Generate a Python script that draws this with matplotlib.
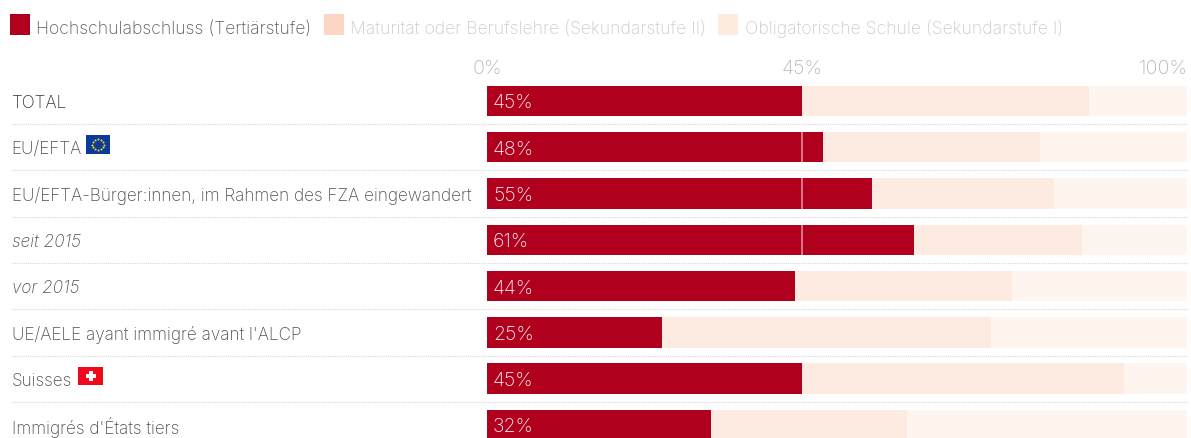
import matplotlib
matplotlib.use("Agg")
import matplotlib.pyplot as plt
from matplotlib.patches import Rectangle
from matplotlib.transforms import blended_transform_factory
import numpy as np

categories = ["TOTAL", "EU/EFTA", "EU/EFTA-Bürger:innen, im Rahmen des FZA eingewandert",
              "seit 2015", "vor 2015", "UE/AELE ayant immigré avant l'ALCP", "Suisses", "Immigrés d'États tiers"]
italic = [False, False, False, True, True, False, False, False]
tertiary = [45, 48, 55, 61, 44, 25, 45, 32]
secondary = [41, 31, 26, 24, 31, 47, 46, 28]
compulsory = [14, 21, 19, 15, 25, 28, 9, 40]
tick_values = [0, 45, 100]
legend_labels = ["Hochschulabschluss (Tertiärstufe)", "Maturität oder Berufslehre (Sekundarstufe II)",
                 "Obligatorische Schule (Sekundarstufe I)"]

W, H = 1191, 439
plt.rcParams['font.family'] = ['Inter', 'DejaVu Sans']
fig = plt.figure(figsize=(W/100, H/100), dpi=100)
fx = lambda p: p / W
fy = lambda p: 1 - p / H

pitch = 46.3
center0 = 101.9
ax = fig.add_axes([fx(487), 0, 700/W, 1])
ax.set_xlim(0, 100)
ax.set_ylim((H - center0)/pitch, -center0/pitch)
ax.axis("off")
y = np.arange(len(categories))
h = 30.5/pitch
C = ["#b0001e", "#fdeae0", "#fef5ee"]
ax.barh(y, tertiary, height=h, color=C[0], lw=0)
ax.barh(y, secondary, left=tertiary, height=h, color=C[1], lw=0)
left3 = np.array(tertiary) + np.array(secondary)
ax.barh(y, compulsory, left=left3, height=h, color=C[2], lw=0)
dy = 0.6 / pitch
for yi, v in zip(y, tertiary):
    ax.text(0.85, yi - dy, f"{v}%", color="#fff4f4", fontsize=14, va="center_baseline", ha="left", fontweight="light")
    if v > 45:
        ax.plot([45, 45], [yi - h/2, yi + h/2], color="#ffffff", alpha=0.6, lw=1.1, solid_capstyle="butt")

tr = blended_transform_factory(fig.transFigure, ax.transData)
for i, (c, it) in enumerate(zip(categories, italic)):
    ax.text(fx(11.5), i - dy, c, transform=tr, color="#333333" if i == 0 else "#505050", fontsize=12.35, va="center_baseline",
            ha="left", style="italic" if it else "normal", fontweight="light", clip_on=False)
    if i < len(categories) - 1:
        ax.plot([fx(12), fx(1187)], [i + 0.5, i + 0.5], transform=tr, color="#d8d8d8", lw=0.8,
                ls=(0, (1, 1)), clip_on=False)

for v, ha, px in zip(tick_values, ["center", "center", "right"], [487, 802, 1188]):
    fig.text(fx(px), fy(67), f"{v}%", color="#b8b8b8", fontsize=14.2, ha=ha, va="center_baseline", fontweight="light")

sw = [(10, "#b0001e"), (324, "#fdd5c4"), (718, "#feebdf")]
txt = [36, 350, 745]
tcol = ["#5c5c5c", "#cccccc", "#cccccc"]
for (xp, col), tx, l, tc in zip(sw, txt, legend_labels, tcol):
    fig.add_artist(Rectangle((fx(xp), fy(36)), 20/W, 21/H, transform=fig.transFigure, color=col, lw=0))
    fig.text(fx(tx), fy(27), l, color=tc, fontsize=12.65, ha="left", va="center_baseline", fontweight="light")

# flags
fig.add_artist(Rectangle((fx(86), fy(155)), 24/W, 19/H, transform=fig.transFigure, color="#0a3a9a", lw=0))
t = np.arange(12) * 2*np.pi/12
fig.add_artist(plt.Line2D(fx(98 + 5.6*np.cos(t)), fy(145.5 + 5.6*np.sin(t)), transform=fig.transFigure,
                          ls="", marker="o", ms=1.5, mew=0, color="#f0c820"))
fig.add_artist(Rectangle((fx(78), fy(386)), 25/W, 18/H, transform=fig.transFigure, color="#ee0a1a", lw=0))
fig.add_artist(Rectangle((fx(85.5), fy(379)), 10/W, 4/H, transform=fig.transFigure, color="white", lw=0))
fig.add_artist(Rectangle((fx(88.5), fy(382)), 4/W, 10/H, transform=fig.transFigure, color="white", lw=0))

fig.savefig("out.png", dpi=100)
